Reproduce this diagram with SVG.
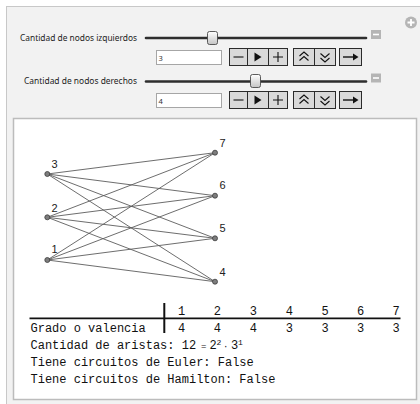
<svg xmlns="http://www.w3.org/2000/svg" width="420" height="404" viewBox="0 0 420 404">
<defs>
<style>
.lbl{font-family:"Noto Sans","Open Sans","Liberation Sans",sans-serif;font-size:8.6px;fill:#222}
.inp{fill:#fff;stroke:#a6a6a6;stroke-width:1}
.inpt{font-family:"Noto Sans","Liberation Sans",sans-serif;font-size:7.5px;fill:#333}
.btn{fill:#d9d9d9;stroke:#2b2b2b;stroke-width:1}
.ico{fill:none;stroke:#111;stroke-width:1.1}
.track{stroke:#2e2e2e;stroke-width:2.6;stroke-linecap:round}
.thumb{fill:url(#tg);stroke:#4a4a4a;stroke-width:0.9}
.edge{stroke:#5c5c5c;stroke-width:0.9;fill:none}
.node{fill:#7d7d7d;stroke:#3c3c3c;stroke-width:0.8}
.nl{font-family:"Liberation Sans",Arial,sans-serif;font-size:11px;fill:#222;text-anchor:middle}
.mono{font-family:"Liberation Mono","DejaVu Sans Mono",monospace;font-size:12px;fill:#111}
.num{text-anchor:middle}
</style>
<linearGradient id="tg" x1="0" y1="0" x2="0" y2="1">
<stop offset="0" stop-color="#ffffff"/>
<stop offset="1" stop-color="#c4c4c4"/>
</linearGradient>
</defs>
<rect x="0" y="0" width="420" height="404" fill="#ffffff"/>
<rect x="6.5" y="6.5" width="420" height="410" fill="#f2f2f2" stroke="#c8c8c8" stroke-width="1"/>
<g id="plus-icon">
<circle cx="411" cy="22.5" r="6" fill="#b5b5b5"/>
<path d="M407.5 22.5h7M411 19v7" stroke="#fff" stroke-width="1.8"/>
</g>
<g id="control-izq">
<text class="lbl" x="137" y="40.5" text-anchor="end" textLength="117" lengthAdjust="spacingAndGlyphs">Cantidad de nodos izquierdos</text>
<line class="track" x1="146" y1="38" x2="366" y2="38"/>
<rect class="thumb" x="207.5" y="31.5" width="10" height="13" rx="2"/>
<rect x="371" y="30" width="10" height="9" fill="#b5b5b5"/>
<line x1="373" y1="34.5" x2="379" y2="34.5" stroke="#fff" stroke-width="1.6"/>
<rect class="inp" x="156.5" y="50.5" width="65" height="14"/>
<text class="inpt" x="158.5" y="60.5">3</text>
<rect class="btn" x="229.5" y="48.5" width="58" height="17"/>
<line x1="247.5" y1="48.5" x2="247.5" y2="65.5" stroke="#2b2b2b"/>
<line x1="268.5" y1="48.5" x2="268.5" y2="65.5" stroke="#2b2b2b"/>
<line class="ico" x1="233.5" y1="57" x2="243.5" y2="57"/>
<path d="M254.5 52.5L261.5 57L254.5 61.5Z" fill="#111"/>
<path class="ico" d="M273 57h10M278 52v10"/>
<rect class="btn" x="293.5" y="48.5" width="42" height="17"/>
<line x1="314.5" y1="48.5" x2="314.5" y2="65.5" stroke="#2b2b2b"/>
<path class="ico" d="M299.5 56l4.5-4l4.5 4M299.5 60.5l4.5-4l4.5 4"/>
<path class="ico" d="M320.5 53.5l4.5 4l4.5-4M320.5 58l4.5 4l4.5-4"/>
<rect class="btn" x="339.5" y="48.5" width="22" height="17"/>
<line x1="343" y1="57" x2="354" y2="57" stroke="#111" stroke-width="1.4"/>
<path d="M353 53.5L358.5 57L353 60.5Z" fill="#111"/>
</g>
<g id="control-der">
<text class="lbl" x="137" y="84" text-anchor="end" textLength="113" lengthAdjust="spacingAndGlyphs">Cantidad de nodos derechos</text>
<line class="track" x1="146" y1="81.5" x2="366" y2="81.5"/>
<rect class="thumb" x="250.5" y="74.5" width="10" height="13" rx="2"/>
<rect x="371" y="73.5" width="10" height="9" fill="#b5b5b5"/>
<line x1="373" y1="78" x2="379" y2="78" stroke="#fff" stroke-width="1.6"/>
<rect class="inp" x="156.5" y="93.5" width="65" height="14"/>
<text class="inpt" x="158.5" y="103.5">4</text>
<rect class="btn" x="229.5" y="91.5" width="58" height="17"/>
<line x1="247.5" y1="91.5" x2="247.5" y2="108.5" stroke="#2b2b2b"/>
<line x1="268.5" y1="91.5" x2="268.5" y2="108.5" stroke="#2b2b2b"/>
<line class="ico" x1="233.5" y1="100" x2="243.5" y2="100"/>
<path d="M254.5 95.5L261.5 100L254.5 104.5Z" fill="#111"/>
<path class="ico" d="M273 100h10M278 95v10"/>
<rect class="btn" x="293.5" y="91.5" width="42" height="17"/>
<line x1="314.5" y1="91.5" x2="314.5" y2="108.5" stroke="#2b2b2b"/>
<path class="ico" d="M299.5 99l4.5-4l4.5 4M299.5 103.5l4.5-4l4.5 4"/>
<path class="ico" d="M320.5 96.5l4.5 4l4.5-4M320.5 101l4.5 4l4.5-4"/>
<rect class="btn" x="339.5" y="91.5" width="22" height="17"/>
<line x1="343" y1="100" x2="354" y2="100" stroke="#111" stroke-width="1.4"/>
<path d="M353 96.5L358.5 100L353 103.5Z" fill="#111"/>
</g>
<rect x="13.5" y="118.5" width="403" height="281" fill="#ffffff" stroke="#bcbcbc" stroke-width="1.5"/>
<g id="connectors">
<line class="edge" x1="47.3" y1="260" x2="215" y2="281.7"/>
<line class="edge" x1="47.3" y1="260" x2="215" y2="238.3"/>
<line class="edge" x1="47.3" y1="260" x2="215" y2="195.7"/>
<line class="edge" x1="47.3" y1="260" x2="215" y2="152.7"/>
<line class="edge" x1="47.3" y1="217.3" x2="215" y2="281.7"/>
<line class="edge" x1="47.3" y1="217.3" x2="215" y2="238.3"/>
<line class="edge" x1="47.3" y1="217.3" x2="215" y2="195.7"/>
<line class="edge" x1="47.3" y1="217.3" x2="215" y2="152.7"/>
<line class="edge" x1="47.3" y1="174" x2="215" y2="281.7"/>
<line class="edge" x1="47.3" y1="174" x2="215" y2="238.3"/>
<line class="edge" x1="47.3" y1="174" x2="215" y2="195.7"/>
<line class="edge" x1="47.3" y1="174" x2="215" y2="152.7"/>
</g>
<g id="n1"><circle class="node" cx="47.3" cy="260" r="2.5"/><text class="nl" x="54.5" y="253.3">1</text></g>
<g id="n2"><circle class="node" cx="47.3" cy="217.3" r="2.5"/><text class="nl" x="54.5" y="211.5">2</text></g>
<g id="n3"><circle class="node" cx="47.3" cy="174" r="2.5"/><text class="nl" x="54.5" y="168">3</text></g>
<g id="n4"><circle class="node" cx="215" cy="281.7" r="2.5"/><text class="nl" x="222.5" y="275.7">4</text></g>
<g id="n5"><circle class="node" cx="215" cy="238.3" r="2.5"/><text class="nl" x="222.5" y="232.3">5</text></g>
<g id="n6"><circle class="node" cx="215" cy="195.7" r="2.5"/><text class="nl" x="222.5" y="189.3">6</text></g>
<g id="n7"><circle class="node" cx="215" cy="152.7" r="2.5"/><text class="nl" x="222.5" y="146.7">7</text></g>
<g id="tabla">
<line x1="29.5" y1="318.3" x2="400.5" y2="318.3" stroke="#111" stroke-width="1.8"/>
<line x1="164.3" y1="303" x2="164.3" y2="333" stroke="#111" stroke-width="2"/>
<g class="mono num">
<text x="181.7" y="314.5">1</text><text x="217.3" y="314.5">2</text><text x="253.3" y="314.5">3</text><text x="289.3" y="314.5">4</text><text x="325" y="314.5">5</text><text x="360.7" y="314.5">6</text><text x="396" y="314.5">7</text>
<text x="181.7" y="331.5">4</text><text x="217.3" y="331.5">4</text><text x="253.3" y="331.5">4</text><text x="289.3" y="331.5">3</text><text x="325" y="331.5">3</text><text x="360.7" y="331.5">3</text><text x="396" y="331.5">3</text>
</g>
<text class="mono" x="30.5" y="331.5">Grado o valencia</text>
</g>
<g id="info">
<text class="mono" x="30.5" y="349">Cantidad de aristas: 12<tspan x="201" font-size="9">=</tspan><tspan x="209.5">2</tspan><tspan x="216.5" dy="-4.5" font-size="8">2</tspan><tspan x="223" dy="4.5" font-size="9">·</tspan><tspan x="231">3</tspan><tspan x="238" dy="-4.5" font-size="8">1</tspan></text>
<text class="mono" x="30.5" y="366">Tiene circuitos de Euler: False</text>
<text class="mono" x="30.5" y="382.7">Tiene circuitos de Hamilton: False</text>
</g>
</svg>
